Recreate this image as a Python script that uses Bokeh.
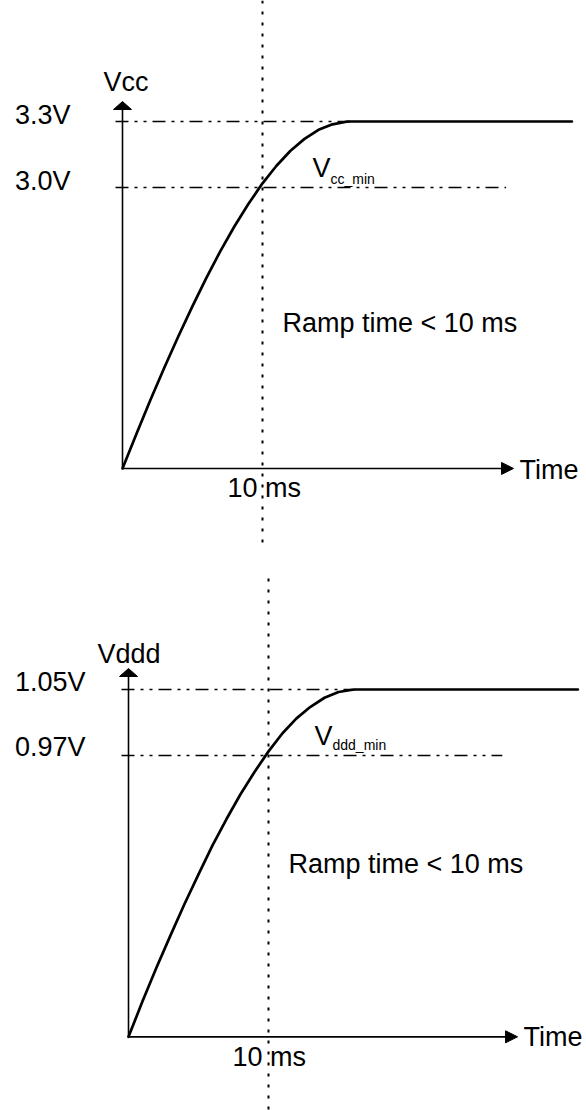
from bokeh.plotting import figure
from bokeh.layouts import column
from bokeh.models import Range1d
from bokeh.core.properties import value
from bokeh.embed import file_html
from bokeh.resources import INLINE

FONT = "Liberation Sans"

# ---------------- data ----------------
# Top panel: Vcc ramp (time in ms, voltage in V; diagram axis origin at ~1.72 V)
vcc_time = [0, 1, 2, 3, 4, 5, 6, 7, 8, 9, 10, 11, 12, 13, 14, 15, 16, 16.3, 32.1]
vcc_volt = [1.723, 1.881, 2.035, 2.183, 2.325, 2.461, 2.590, 2.712, 2.824, 2.926,
            3.019, 3.099, 3.167, 3.221, 3.262, 3.287, 3.299, 3.3, 3.3]
vcc_levels = [3.3, 3.0]
vcc_level_labels = ["3.3V", "3.0V"]
vcc_level_ends = [16.3, 27.4]

# Bottom panel: Vddd ramp
vddd_time = [0, 1, 2, 3, 4, 5, 6, 7, 8, 9, 10, 11, 12, 13, 14, 15, 16, 16.2, 32.1]
vddd_volt = [0.629, 0.672, 0.713, 0.752, 0.790, 0.826, 0.861, 0.893, 0.923, 0.950,
             0.975, 0.997, 1.015, 1.029, 1.040, 1.047, 1.0497, 1.05, 1.05]
vddd_levels = [1.05, 0.97]
vddd_level_labels = ["1.05V", "0.97V"]
vddd_level_ends = [16.2, 26.7]

ramp_limit_ms = 10
ramp_text = "Ramp time < 10 ms"
limit_label = "10 ms"

SHIFT = -8      # text baseline correction for 27px text
SUB_SHIFT = -4  # for 14px subscript


def make_panel(H, ox, ref_v, ref_py, k, t, v, levels, labels, level_ends,
               name, sub, axis_x_end, axis_top_px, dot_top_py, dot_bot_py,
               lab_dx, name_dx, name_dy, ms_dx, time_dx, time_dy, vmin_dx, sub_dx,
               sub_dy, ramp_dx, ramp_dy, lab_dys):
    W = 586
    pxms = 14.0

    def vy(py):
        return ref_v + (ref_py - py) / k

    p = figure(width=W, height=H, output_backend="svg", toolbar_location=None,
               x_axis_location=None, y_axis_location=None, min_border=0,
               outline_line_color=None, background_fill_color="white",
               border_fill_color="white")
    p.x_range = Range1d(-ox / pxms, (W - ox) / pxms)
    p.y_range = Range1d(vy(H), vy(0))
    p.xgrid.visible = False
    p.ygrid.visible = False

    v0 = v[0]

    def dxp(px):
        return px / pxms

    def dyp(px):
        return px / k

    # dotted 10 ms marker
    p.segment(x0=[ramp_limit_ms], y0=[vy(dot_top_py)], x1=[ramp_limit_ms], y1=[vy(dot_bot_py)],
              line_color="black", line_width=2, line_dash="3 8")

    # dash-dot level lines
    p.segment(x0=[-dxp(7)] * len(levels), y0=levels, x1=level_ends, y1=levels,
              line_color="black", line_width=1.4, line_dash="13 6 3 6 3 6")

    # axes
    y_top = vy(axis_top_px)
    p.segment(x0=[0, 0], y0=[v0, v0], x1=[0, axis_x_end - dxp(6)], y1=[y_top - dyp(4), v0],
              line_color="black", line_width=1.6)
    # arrow heads
    p.patches(xs=[[-dxp(9), dxp(9), 0], [axis_x_end - dxp(12), axis_x_end - dxp(12), axis_x_end]],
              ys=[[y_top - dyp(8), y_top - dyp(8), y_top], [v0 - dyp(6), v0 + dyp(6), v0]],
              fill_color="black", line_color="black", line_width=1)

    # ramp curve
    p.line(t, v, line_color="black", line_width=2.7, line_join="round", line_cap="round")

    fnt = value(FONT)
    big = value("27px")
    for lv, lb, dy in zip(levels, labels, lab_dys):
        p.text(x=[0], y=[lv], text=[lb], x_offset=lab_dx, y_offset=dy + SHIFT, text_align="right",
               text_baseline="alphabetic", text_font=fnt, text_font_size=big, text_color="black")
    p.text(x=[0], y=[y_top], text=[name], x_offset=name_dx, y_offset=name_dy + SHIFT,
           text_align="left", text_baseline="alphabetic", text_font=fnt,
           text_font_size=big, text_color="black")
    p.text(x=[ramp_limit_ms], y=[v0], text=[limit_label], x_offset=ms_dx, y_offset=28 + SHIFT,
           text_align="left", text_baseline="alphabetic", text_font=fnt,
           text_font_size=big, text_color="black")
    p.text(x=[axis_x_end], y=[v0], text=["Time"], x_offset=time_dx, y_offset=time_dy + SHIFT,
           text_align="left", text_baseline="alphabetic", text_font=fnt,
           text_font_size=big, text_color="black")
    p.text(x=[ramp_limit_ms], y=[levels[1]], text=["V"], x_offset=vmin_dx, y_offset=-12 + SHIFT,
           text_align="left", text_baseline="alphabetic", text_font=fnt,
           text_font_size=big, text_color="black")
    p.text(x=[ramp_limit_ms], y=[levels[1]], text=[sub], x_offset=sub_dx, y_offset=sub_dy + SUB_SHIFT,
           text_align="left", text_baseline="alphabetic", text_font=fnt,
           text_font_size=value("14px"), text_color="black")
    p.text(x=[ramp_limit_ms], y=[v0], text=[ramp_text], x_offset=ramp_dx, y_offset=ramp_dy + SHIFT,
           text_align="left", text_baseline="alphabetic", text_font=fnt,
           text_font_size=big, text_color="black")
    return p


top = make_panel(H=563, ox=122, ref_v=3.3, ref_py=121, k=220.0,
                 t=vcc_time, v=vcc_volt, levels=vcc_levels, labels=vcc_level_labels,
                 level_ends=vcc_level_ends, name="Vcc", sub="cc_min",
                 axis_x_end=27.93, axis_top_px=101, dot_top_py=0, dot_bot_py=542,
                 lab_dx=-52, name_dx=-19, name_dy=-12, ms_dx=-35, time_dx=6, time_dy=10,
                 vmin_dx=50, sub_dx=68, sub_dy=-5, ramp_dx=20, ramp_dy=-137,
                 lab_dys=[1, 1])

bottom = make_panel(H=547, ox=128, ref_v=1.05, ref_py=126, k=825.0,
                    t=vddd_time, v=vddd_volt, levels=vddd_levels, labels=vddd_level_labels,
                    level_ends=vddd_level_ends, name="Vddd", sub="ddd_min",
                    axis_x_end=27.79, axis_top_px=105, dot_top_py=15, dot_bot_py=547,
                    lab_dx=-43, name_dx=-31, name_dy=-7, ms_dx=-36, time_dx=6, time_dy=8,
                    vmin_dx=46, sub_dx=64, sub_dy=-7, ramp_dx=20, ramp_dy=-165,
                    lab_dys=[0, -1])

layout = column(top, bottom, spacing=0)
open("out.html", "w").write(file_html(layout, INLINE))
